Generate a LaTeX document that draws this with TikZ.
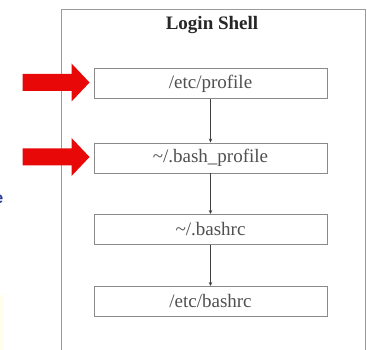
\documentclass[tikz,border=0pt]{standalone}
\usepackage{fontspec}
\setmainfont{Liberation Serif}
\newfontfamily\serifb{LiberationSerif}[Extension=.ttf, UprightFont=*-Regular, BoldFont=*-Bold]
\newfontfamily\sansf{Liberation Sans}
\usetikzlibrary{arrows.meta,calc}
\definecolor{boxline}{HTML}{8A8A8A}
\definecolor{boxtext}{HTML}{505050}
\definecolor{frame}{HTML}{9A9A9A}
\definecolor{redarrow}{HTML}{E80808}
\definecolor{bluetxt}{HTML}{2A3A9A}
\tikzset{
  filebox/.style={draw=boxline, line width=0.9pt, minimum width=233pt, minimum height=30pt,
    inner sep=0pt, text=boxtext, font=\serifb\fontsize{19}{21}\selectfont},
  flow/.style={draw=black!75, line width=0.8pt, -{Stealth[length=4pt,width=3.5pt]}},
  bigarrow/.style={fill=redarrow, draw=none}
}
\begin{document}
\begin{tikzpicture}[x=1pt,y=-1pt]
\useasboundingbox (0,0) rectangle (367,350);
\fill[white] (0,0) rectangle (367,350);
% faint background remnants
\fill[yellow!7] (0,295) rectangle (4,350);
\node[anchor=east, inner sep=0pt, text=bluetxt, font=\sansf\bfseries\fontsize{16}{18}\selectfont] (frag) at (3.5,199) {e};
% outer frame
\draw[frame, line width=0.9pt] (61,350) -- (61,9) -- (365,9) -- (365,350);
\node[font=\serifb\bfseries\fontsize{19}{21}\selectfont, text=black!85] (title) at (212,25) {Login Shell};
% boxes
\node[filebox] (b1) at (210.5,83.5) {/etc/profile};
\node[filebox] (b2) at (210.5,158) {\textasciitilde/.bash\_profile};
\node[filebox] (b3) at (210.5,229.5) {\textasciitilde/.bashrc};
\node[filebox] (b4) at (210.5,301.5) {/etc/bashrc};
% connectors
\draw[flow] (b1) -- (b2);
\draw[flow] (b2) -- (b3);
\draw[flow] (b3) -- (b4);
% red arrows
\foreach \b in {b1,b2}{
  \coordinate (tip) at ($(\b.west)+(-4,-1)$);
  \fill[bigarrow] ($(tip)+(-67,-8.5)$) -- ($(tip)+(-18,-8.5)$) -- ($(tip)+(-18,-19)$) -- (tip)
    -- ($(tip)+(-18,19)$) -- ($(tip)+(-18,8.5)$) -- ($(tip)+(-67,8.5)$) -- cycle;
}
\end{tikzpicture}
\end{document}
